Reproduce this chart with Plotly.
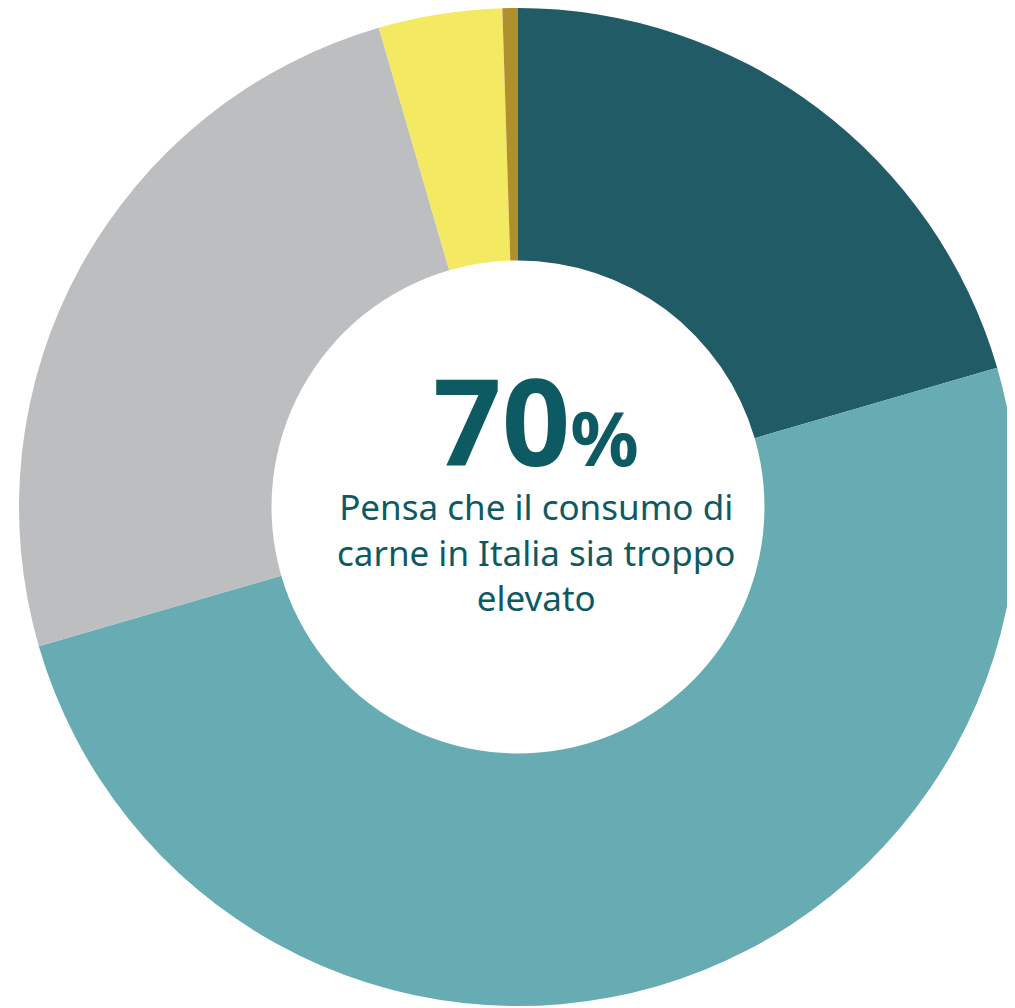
import plotly.graph_objects as go

labels = ["Molto d'accordo", "Abbastanza d'accordo", "Poco d'accordo", "Per niente d'accordo", "Non so"]
values = [20.5, 50, 25, 4, 0.5]
colors = ["#215b65", "#67acb3", "#bdbec0", "#f3e962", "#b08f2d"]

headline = "70"
headline_unit = "%"
caption_lines = ["Pensa che il consumo di", "carne in Italia sia troppo", "elevato"]

W, H = 1015, 1008
fig = go.Figure(go.Pie(
    labels=labels, values=values, hole=0.494, sort=False,
    direction="clockwise", rotation=0,
    marker=dict(colors=colors, line=dict(width=0)),
    textinfo="none", hoverinfo="label+percent",
    domain=dict(x=[11 / W, 1009 / W], y=[10 / H, 1.0]),
    showlegend=False,
))

text_color = "#0e5a63"
cx = 528 / W
fig.add_annotation(
    x=cx, y=1 - 411 / H, xref="paper", yref="paper", xanchor="center", yanchor="middle",
    text=f"<b>{headline}<span style='font-size:76px'>{headline_unit}</span></b>",
    showarrow=False, font=dict(family="Noto Sans", size=120, color=text_color),
)
fig.add_annotation(
    x=cx, y=1 - 544 / H, xref="paper", yref="paper", xanchor="center", yanchor="middle",
    text="<br>".join(caption_lines), showarrow=False, align="center",
    font=dict(family="Noto Sans", size=35, color=text_color),
)

fig.update_layout(
    width=W, height=H, margin=dict(l=0, r=0, t=0, b=0),
    paper_bgcolor="white", plot_bgcolor="white",
)
fig.write_html("out.html")
